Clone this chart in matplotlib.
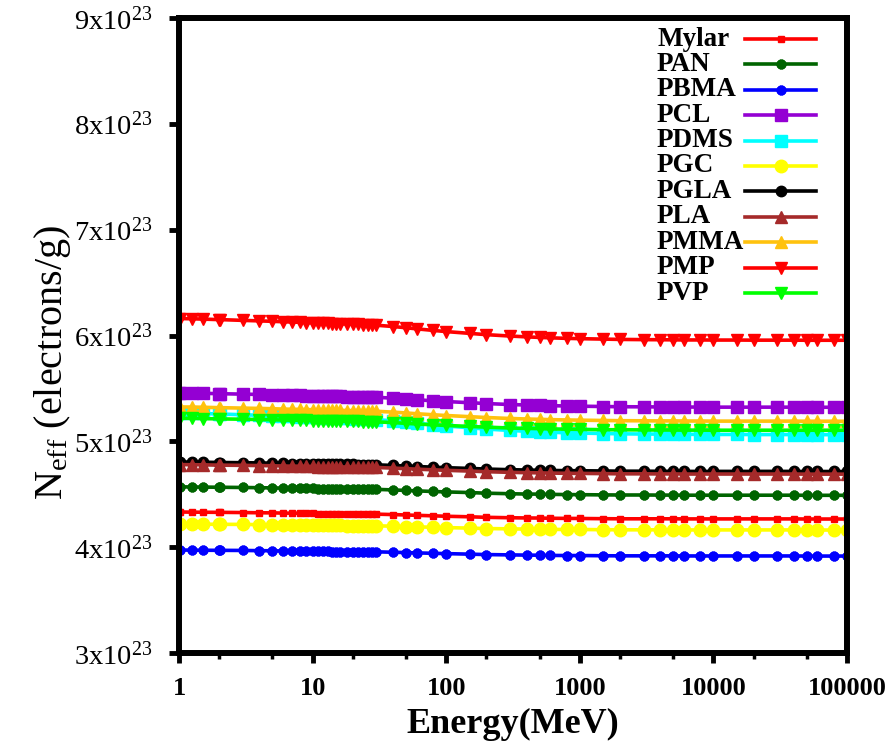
import matplotlib
matplotlib.use("Agg")
import matplotlib.pyplot as plt
from matplotlib.lines import Line2D
from matplotlib.ticker import FixedLocator, NullFormatter

plt.rcParams['font.family'] = ['Liberation Serif', 'DejaVu Serif']
plt.rcParams['mathtext.fontset'] = 'custom'
plt.rcParams['mathtext.rm'] = 'Liberation Serif'
plt.rcParams['mathtext.it'] = 'Liberation Serif:italic'
plt.rcParams['mathtext.bf'] = 'Liberation Serif:bold'

energy = [1, 1.022, 1.25, 1.5, 2, 2.044, 3, 4, 5, 6, 7, 8, 9, 10, 11, 12, 13, 14, 15, 16,
          18, 20, 22, 24, 26, 28, 30, 40, 50, 60, 80, 100, 150, 200, 300, 400, 500, 600,
          800, 1000, 1500, 2000, 3000, 4000, 5000, 6000, 8000, 10000, 15000, 20000, 30000,
          40000, 50000, 60000, 80000, 100000]

# N_eff in units of 1e23 electrons/g
mylar = [4.332,4.332,4.331,4.330,4.329,4.329,4.327,4.325,4.324,4.322,4.321,4.321,4.320,4.320,4.318,4.318,4.317,4.316,4.316,4.316,4.315,4.315,4.315,4.314,4.313,4.312,4.312,4.308,4.304,4.301,4.296,4.292,4.287,4.282,4.278,4.276,4.275,4.273,4.272,4.271,4.269,4.268,4.268,4.268,4.268,4.267,4.267,4.267,4.267,4.267,4.267,4.267,4.266,4.266,4.266,4.266]
pan = [4.570,4.570,4.569,4.568,4.566,4.566,4.564,4.562,4.560,4.558,4.557,4.557,4.555,4.555,4.553,4.553,4.552,4.551,4.551,4.551,4.550,4.550,4.549,4.548,4.547,4.546,4.546,4.541,4.536,4.532,4.526,4.522,4.516,4.510,4.505,4.502,4.501,4.499,4.497,4.496,4.494,4.493,4.493,4.492,4.492,4.491,4.491,4.491,4.491,4.491,4.491,4.491,4.490,4.490,4.490,4.490]
pbma = [3.973,3.973,3.972,3.971,3.970,3.970,3.969,3.967,3.966,3.964,3.964,3.964,3.963,3.963,3.961,3.961,3.960,3.959,3.959,3.959,3.958,3.958,3.958,3.958,3.957,3.956,3.956,3.952,3.949,3.946,3.942,3.939,3.934,3.930,3.927,3.925,3.924,3.922,3.921,3.921,3.919,3.918,3.918,3.918,3.918,3.917,3.917,3.917,3.917,3.917,3.917,3.917,3.916,3.916,3.916,3.916]
pcl = [5.457,5.457,5.456,5.454,5.450,5.450,5.446,5.443,5.440,5.437,5.435,5.434,5.432,5.431,5.429,5.428,5.427,5.426,5.425,5.425,5.423,5.422,5.421,5.419,5.418,5.417,5.416,5.408,5.400,5.393,5.383,5.376,5.365,5.357,5.348,5.343,5.340,5.337,5.334,5.332,5.329,5.327,5.326,5.325,5.325,5.324,5.324,5.323,5.323,5.323,5.323,5.323,5.322,5.322,5.322,5.322]
pdms = [5.268,5.268,5.266,5.263,5.258,5.258,5.251,5.246,5.242,5.238,5.235,5.233,5.230,5.228,5.226,5.224,5.223,5.221,5.220,5.219,5.217,5.215,5.213,5.211,5.209,5.207,5.205,5.193,5.181,5.171,5.156,5.145,5.128,5.116,5.103,5.095,5.090,5.086,5.081,5.078,5.074,5.071,5.069,5.068,5.067,5.066,5.066,5.065,5.065,5.064,5.064,5.064,5.063,5.063,5.063,5.063]
pgc = [4.219,4.219,4.218,4.217,4.216,4.216,4.215,4.213,4.212,4.210,4.210,4.210,4.209,4.209,4.207,4.207,4.206,4.205,4.205,4.205,4.204,4.204,4.204,4.204,4.203,4.202,4.202,4.198,4.195,4.192,4.188,4.185,4.180,4.176,4.173,4.171,4.170,4.168,4.167,4.167,4.165,4.164,4.164,4.164,4.164,4.163,4.163,4.163,4.163,4.163,4.163,4.163,4.162,4.162,4.162,4.162]
pgla = [4.805,4.805,4.804,4.803,4.800,4.800,4.798,4.796,4.794,4.792,4.790,4.790,4.788,4.788,4.786,4.786,4.785,4.784,4.784,4.784,4.782,4.782,4.781,4.780,4.779,4.778,4.778,4.772,4.767,4.762,4.756,4.751,4.744,4.738,4.732,4.729,4.727,4.725,4.723,4.722,4.720,4.718,4.718,4.717,4.717,4.716,4.716,4.716,4.716,4.716,4.716,4.716,4.715,4.715,4.715,4.715]
pla = [4.780,4.780,4.779,4.778,4.775,4.775,4.773,4.771,4.769,4.767,4.765,4.765,4.763,4.763,4.761,4.761,4.760,4.759,4.759,4.759,4.757,4.757,4.756,4.755,4.754,4.753,4.753,4.747,4.742,4.737,4.731,4.726,4.719,4.713,4.707,4.704,4.702,4.700,4.698,4.697,4.695,4.693,4.693,4.692,4.692,4.691,4.691,4.691,4.691,4.691,4.691,4.691,4.690,4.690,4.690,4.690]
pmma = [5.325,5.325,5.324,5.322,5.318,5.318,5.314,5.311,5.308,5.305,5.303,5.302,5.300,5.299,5.297,5.296,5.295,5.294,5.293,5.293,5.291,5.290,5.289,5.287,5.286,5.285,5.284,5.276,5.268,5.261,5.251,5.244,5.233,5.225,5.216,5.211,5.208,5.205,5.202,5.200,5.197,5.195,5.194,5.193,5.193,5.192,5.192,5.191,5.191,5.191,5.191,5.191,5.190,5.190,5.190,5.190]
pmp = [6.160,6.160,6.158,6.155,6.150,6.150,6.143,6.138,6.134,6.130,6.127,6.125,6.122,6.120,6.118,6.116,6.115,6.113,6.112,6.111,6.109,6.107,6.105,6.103,6.101,6.099,6.097,6.085,6.073,6.063,6.048,6.037,6.020,6.008,5.995,5.987,5.982,5.978,5.973,5.970,5.966,5.963,5.961,5.960,5.959,5.958,5.958,5.957,5.957,5.956,5.956,5.956,5.955,5.955,5.955,5.955]
pvp = [5.218,5.218,5.217,5.215,5.212,5.212,5.209,5.206,5.204,5.201,5.200,5.199,5.197,5.196,5.194,5.194,5.193,5.192,5.191,5.191,5.189,5.189,5.188,5.186,5.185,5.184,5.184,5.177,5.170,5.164,5.156,5.150,5.141,5.134,5.126,5.122,5.120,5.117,5.115,5.113,5.110,5.109,5.108,5.107,5.107,5.106,5.106,5.105,5.105,5.105,5.105,5.105,5.105,5.105,5.105,5.105]

labels = ["Mylar", "PAN", "PBMA", "PCL", "PDMS", "PGC", "PGLA", "PLA", "PMMA", "PMP", "PVP"]
series = [mylar, pan, pbma, pcl, pdms, pgc, pgla, pla, pmma, pmp, pvp]
colors = ["#ff0000", "#006400", "#0000ff", "#9400d3", "#00ffff", "#ffff00",
          "#000000", "#a52a2a", "#ffc20e", "#ff0000", "#00ff00"]
markers = ["s", (8, 2, 0), (8, 2, 0), "s", "s", "o", "o", "^", "^", "v", "v"]
msizes = [5, 7, 7, 8.5, 8.5, 9, 7.5, 8, 8, 8.5, 8.5]

yticks = [3, 4, 5, 6, 7, 8, 9]
xticks = [1, 10, 100, 1000, 10000, 100000]
xticklabels = ["1", "10", "100", "1000", "10000", "100000"]

W, H = 896, 744
fig = plt.figure(figsize=(W / 100, H / 100), dpi=100)
ax = fig.add_axes([179/W, 1-653/H, (847-179)/W, (653-18)/H])

for lab, y, c, m, ms in zip(labels, series, colors, markers, msizes):
    mew = 2.5 if isinstance(m, tuple) else 1.0
    ax.plot(energy, y, color=c, lw=2.6, marker=m, ms=ms, mfc=c, mec=c, mew=mew,
            label=lab, solid_joinstyle='round')

ax.set_xscale('log')
ax.set_xlim(1, 100000)
ax.set_ylim(3, 9)
ax.xaxis.set_major_locator(FixedLocator(xticks))
ax.set_xticklabels(xticklabels, fontsize=19, fontweight='bold')
ax.xaxis.set_minor_locator(FixedLocator([d * s for d in [1, 10, 100, 1000, 10000] for s in (2, 5)]))
ax.xaxis.set_minor_formatter(NullFormatter())
ax.set_yticks(yticks)
ax.set_yticklabels([r"$\mathregular{%dx10^{23}}$" % t for t in yticks], fontsize=20.5)

for s in ax.spines.values():
    s.set_linewidth(4.3)
ax.tick_params(axis='y', which='major', direction='out', length=7, width=3.5, pad=12)
ax.tick_params(axis='x', which='major', direction='out', length=7, width=3.5, pad=10)
ax.tick_params(axis='x', which='minor', direction='out', length=4, width=2.5)
ax.tick_params(axis='y', which='minor', left=False)

ax.set_xlabel("Energy(MeV)", fontsize=26, fontweight='bold', labelpad=6)
ax.set_ylabel(r"N$_{\mathregular{eff}}$ (electrons/g)", fontsize=29)
ax.yaxis.set_label_coords(-0.158, 0.457)

# legend drawn as text + line handles on the right, labels left-aligned
for i, (lab, c, m, ms) in enumerate(zip(labels, colors, markers, msizes)):
    yc = 1 - (39 + 25.4 * i) / H
    fig.text(657 / W, yc, lab, ha='left', va='center', fontsize=19.5, fontweight='bold')
    mew = 2.5 if isinstance(m, tuple) else 1.0
    fig.add_artist(Line2D([745 / W, 816 / W], [yc, yc], transform=fig.transFigure,
                          color=c, lw=2.6))
    fig.add_artist(Line2D([780.5 / W], [yc], transform=fig.transFigure, color=c,
                          marker=m, ms=ms, mfc=c, mec=c, mew=mew, lw=0))

fig.savefig("out.png", dpi=100)
